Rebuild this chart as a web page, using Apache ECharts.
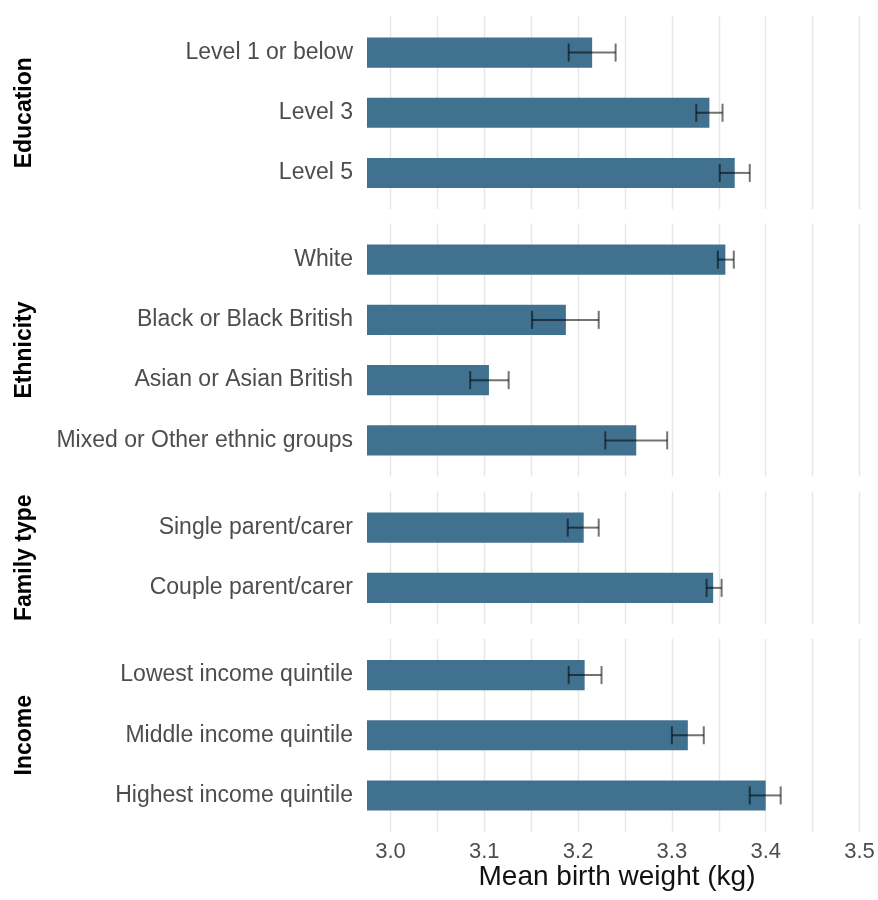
<!DOCTYPE html>
<html>
<head>
<meta charset="utf-8">
<script src="https://cdn.jsdelivr.net/npm/echarts@6/dist/echarts.min.js"></script>
<style>
html,body{margin:0;padding:0;background:#fff;}
#chart{width:878px;height:900px;}
</style>
</head>
<body>
<div id="chart"></div>
<script>
// ---- Data ----
const facetNames = ['Education', 'Ethnicity', 'Family type', 'Income'];

const eduCats = ['Level 1 or below', 'Level 3', 'Level 5'];
const eduMean = [3.215, 3.340, 3.367];
const eduLow  = [3.190, 3.326, 3.351];
const eduHigh = [3.240, 3.354, 3.383];

const ethCats = ['White', 'Black or Black British', 'Asian or Asian British', 'Mixed or Other ethnic groups'];
const ethMean = [3.357, 3.187, 3.105, 3.262];
const ethLow  = [3.349, 3.151, 3.085, 3.229];
const ethHigh = [3.366, 3.222, 3.126, 3.295];

const famCats = ['Single parent/carer', 'Couple parent/carer'];
const famMean = [3.206, 3.344];
const famLow  = [3.189, 3.337];
const famHigh = [3.222, 3.353];

const incCats = ['Lowest income quintile', 'Middle income quintile', 'Highest income quintile'];
const incMean = [3.207, 3.317, 3.400];
const incLow  = [3.190, 3.300, 3.383];
const incHigh = [3.225, 3.334, 3.416];

const xTickValues = [3.0, 3.1, 3.2, 3.3, 3.4, 3.5];
const gridValues = [3.0, 3.05, 3.1, 3.15, 3.2, 3.25, 3.3, 3.35, 3.4, 3.45, 3.5];
const xAxisTitle = 'Mean birth weight (kg)';

// ---- Layout / style ----
const FONT = '"Liberation Sans", Arial, sans-serif';
const X_MIN = 2.975, X_MAX = 3.508;
const LEFT = 367, WIDTH = 500;
const panels = [
  {cats: eduCats, mean: eduMean, low: eduLow, high: eduHigh, top: 16.5, height: 192.5},
  {cats: ethCats, mean: ethMean, low: ethLow, high: ethHigh, top: 223.5, height: 253},
  {cats: famCats, mean: famMean, low: famLow, high: famHigh, top: 491.5, height: 132.5},
  {cats: incCats, mean: incMean, low: incLow, high: incHigh, top: 639, height: 192.5}
];
const PAD = 6; // ggplot discrete expansion beyond half-band
const BAR_COLOR = '#40718f';
const ERR_STYLE = {stroke: 'rgba(0,0,0,0.55)', lineWidth: 2, fill: null};

const grid = [], xAxis = [], yAxis = [], series = [];

// background grids (panel with grid lines + strip labels)
panels.forEach((p, k) => {
  grid.push({left: LEFT, width: WIDTH, top: p.top, height: p.height, containLabel: false, outerBoundsMode: 'none'});
  const isLast = k === panels.length - 1;
  xAxis.push({
    type: 'value', gridIndex: k, min: X_MIN, max: X_MAX,
    axisLine: {show: false},
    axisTick: {show: false, customValues: gridValues},
    splitLine: {show: true, lineStyle: {color: '#e6e6e6', width: 1.4}},
    axisLabel: {
      show: isLast, customValues: xTickValues, margin: 9,
      fontSize: 22, color: '#4d4d4d', fontFamily: FONT,
      formatter: v => v.toFixed(1)
    },
    name: isLast ? xAxisTitle : '',
    nameLocation: 'middle', nameGap: 31,
    nameTextStyle: {fontSize: 28, color: '#111', fontFamily: FONT}
  });
  yAxis.push({
    type: 'value', gridIndex: k, min: 0, max: 1,
    axisLine: {show: false}, axisTick: {show: false},
    axisLabel: {show: false}, splitLine: {show: false},
    name: facetNames[k], nameLocation: 'middle', nameGap: 331,
    nameTextStyle: {fontSize: 23, fontWeight: 'bold', color: '#000', fontFamily: FONT}
  });
});

// data grids
panels.forEach((p, k) => {
  const gi = k + panels.length;
  grid.push({left: LEFT, width: WIDTH, top: p.top + PAD, height: p.height - 2 * PAD, containLabel: false, outerBoundsMode: 'none'});
  xAxis.push({type: 'value', gridIndex: gi, min: X_MIN, max: X_MAX, show: false, splitLine: {show: false}});
  yAxis.push({
    type: 'category', gridIndex: gi, data: p.cats, inverse: true,
    axisLine: {show: false}, axisTick: {show: false}, splitLine: {show: false},
    axisLabel: {fontSize: 23, color: '#4d4d4d', margin: 14, fontFamily: FONT, padding: [4, 0, 0, 0]}
  });
  series.push({
    type: 'bar', xAxisIndex: gi, yAxisIndex: gi, data: p.mean,
    barWidth: '50%', itemStyle: {color: BAR_COLOR}, silent: true, z: 2
  });
  series.push({
    type: 'custom', xAxisIndex: gi, yAxisIndex: gi, z: 3, silent: true,
    data: p.low.map((lo, i) => [lo, p.high[i], i]),
    encode: {x: [0, 1], y: 2},
    renderItem: function (params, api) {
      const idx = api.value(2);
      const a = api.coord([api.value(0), idx]);
      const b = api.coord([api.value(1), idx]);
      const h = api.size([0, 1])[1] * 0.15;
      return {
        type: 'group',
        children: [
          {type: 'line', shape: {x1: a[0], y1: a[1], x2: b[0], y2: b[1]}, style: ERR_STYLE},
          {type: 'line', shape: {x1: a[0], y1: a[1] - h, x2: a[0], y2: a[1] + h}, style: ERR_STYLE},
          {type: 'line', shape: {x1: b[0], y1: b[1] - h, x2: b[0], y2: b[1] + h}, style: ERR_STYLE}
        ]
      };
    }
  });
});

const chart = echarts.init(document.getElementById('chart'), null, {renderer: 'canvas'});
chart.setOption({
  animation: false,
  backgroundColor: '#fff',
  textStyle: {fontFamily: FONT},
  grid, xAxis, yAxis, series
});
</script>
</body>
</html>
